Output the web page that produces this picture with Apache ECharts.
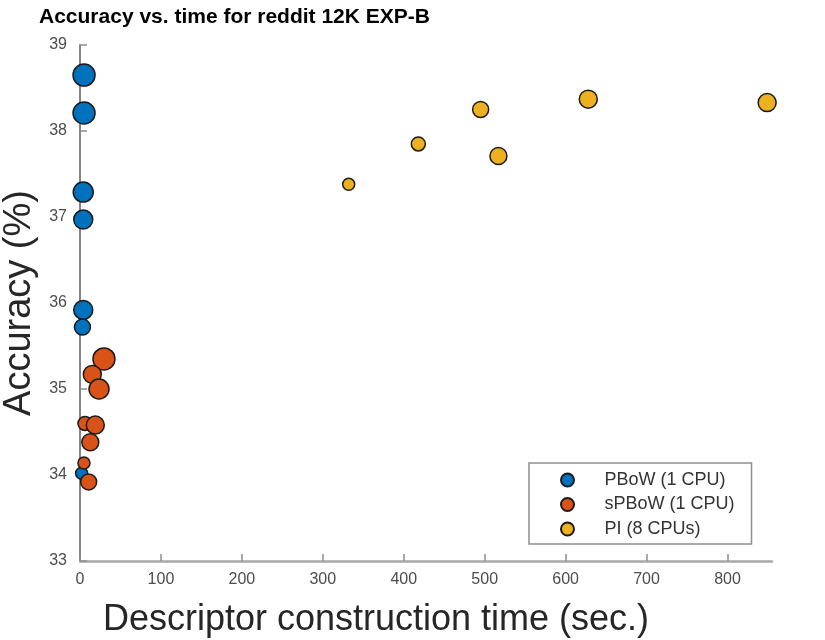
<!DOCTYPE html>
<html>
<head>
<meta charset="utf-8">
<script src="https://cdn.jsdelivr.net/npm/echarts@6/dist/echarts.min.js"></script>
<style>
html,body{margin:0;padding:0;background:#fff;}
#chart{width:825px;height:640px;}
</style>
</head>
<body>
<div id="chart"></div>
<script>
// descriptor time (sec.) / accuracy (%)
var pbowTime = [5, 5, 4, 4, 4, 3, 2];
var pbowAcc = [38.65, 38.21, 37.29, 36.97, 35.92, 35.72, 34.02];
var pbowSize = [22, 22, 20, 19, 19, 16, 12];

var spbowTime = [29.6, 15.2, 23.5, 6.2, 18.9, 12.7, 4.9, 10.7];
var spbowAcc = [35.35, 35.17, 35.00, 34.60, 34.58, 34.38, 34.14, 33.92];
var spbowSize = [22, 18, 20, 14, 18, 17, 12, 16];

var piTime = [332, 418, 495, 517, 628, 849];
var piAcc = [37.38, 37.85, 38.25, 37.71, 38.37, 38.33];
var piSize = [12, 14, 16, 17, 18, 18];

var xTicks = [0, 100, 200, 300, 400, 500, 600, 700, 800];
var seriesNames = ['PBoW (1 CPU)', 'sPBoW (1 CPU)', 'PI (8 CPUs)'];

function makePoints(xs, ys, ss){
	var arr = [];
	for(var i=0;i<xs.length;i++){
		arr.push([xs[i], ys[i], ss[i]]);
	}
	return arr;
}

function scatterSeries(name, color, pts){
	return {
		name: name,
		type: 'scatter',
		data: pts,
		symbolSize: function(v){ return v[2]; },
		itemStyle: {
			color: color,
			borderColor: '#1a1a1a',
			borderWidth: 1.5,
			opacity: 1
		},
		emphasis: {disabled: true}
	};
}

var dom = document.getElementById('chart');
var myChart = echarts.init(dom);
var option = {
	backgroundColor: '#fff',
	animation: false,
	title: {
		text: 'Accuracy vs. time for reddit 12K EXP-B',
		left: 34,
		top: 2,
		textStyle: {
			fontFamily: 'Liberation Sans',
			fontWeight: 'bold',
			fontSize: 21,
			color: '#000'
		}
	},
	legend: {
		orient: 'vertical',
		left: 529,
		top: 463,
		data: seriesNames,
		icon: 'circle',
		itemWidth: 64,
		itemHeight: 13,
		itemGap: 6.5,
		padding: [8, 17, 6, 31],
		borderColor: '#8f8f8f',
		borderWidth: 1.5,
		textStyle: {
			fontFamily: 'Liberation Sans',
			fontSize: 18,
			lineHeight: 18,
			color: '#333'
		}
	},
	grid: {
		left: 80,
		right: 53,
		top: 45,
		bottom: 79,
		outerBoundsMode: 'none',
		containLabel: false
	},
	xAxis: {
		type: 'value',
		min: 0,
		max: 855,
		interval: 100,
		splitLine: {show: false},
		name: 'Descriptor construction time (sec.)',
		nameLocation: 'middle',
		nameGap: 41,
		nameTextStyle: {
			fontFamily: 'Liberation Sans',
			fontSize: 36,
			color: '#262626',
			padding: [0, 100, 0, 0]
		},
		axisLine: {lineStyle: {color: '#a8a8a8', width: 2.5}},
		axisTick: {inside: true, length: 7, customValues: xTicks, lineStyle: {color: '#8f8f8f', width: 1.5}},
		axisLabel: {
			customValues: xTicks,
			margin: 11,
			fontFamily: 'Liberation Sans',
			fontSize: 16,
			color: '#4d4d4d'
		}
	},
	yAxis: {
		type: 'value',
		min: 33,
		max: 39,
		interval: 1,
		splitLine: {show: false},
		name: 'Accuracy (%)',
		nameLocation: 'middle',
		nameGap: 38,
		nameTextStyle: {
			fontFamily: 'Liberation Sans',
			fontSize: 38,
			color: '#262626'
		},
		axisLine: {show: true, lineStyle: {color: '#858585', width: 2}},
		axisTick: {show: true, inside: true, length: 7, lineStyle: {color: '#8f8f8f', width: 1.5}},
		axisLabel: {
			margin: 13,
			fontFamily: 'Liberation Sans',
			fontSize: 16,
			color: '#4d4d4d'
		}
	},
	series: [
		scatterSeries(seriesNames[0], '#0072BD', makePoints(pbowTime, pbowAcc, pbowSize)),
		scatterSeries(seriesNames[1], '#D95319', makePoints(spbowTime, spbowAcc, spbowSize)),
		scatterSeries(seriesNames[2], '#EDB120', makePoints(piTime, piAcc, piSize))
	]
};

if (option && typeof option === "object") {
	myChart.setOption(option, true);
}
</script>
</body>
</html>
